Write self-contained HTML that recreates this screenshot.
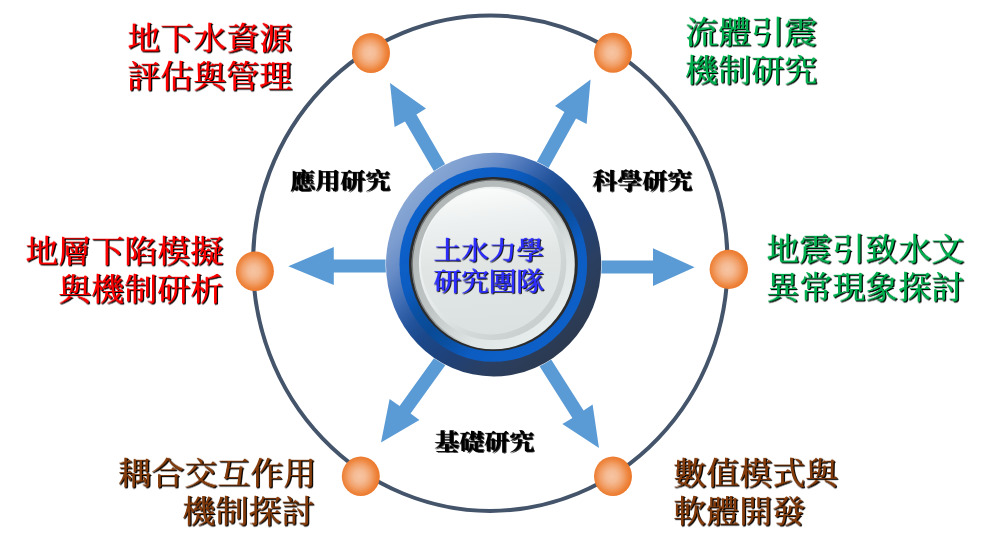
<!DOCTYPE html>
<html lang="zh-Hant">
<head>
<meta charset="utf-8">
<title>土水力學研究團隊</title>
<style>
html,body{margin:0;padding:0;background:#fff;}
body{width:985px;height:550px;position:relative;overflow:hidden;
  font-family:"Liberation Serif","Noto Serif CJK SC",serif;}
svg{position:absolute;left:0;top:0;display:block;}
.t{position:absolute;white-space:nowrap;font-weight:400;font-size:33px;line-height:40.1px;
  transform-origin:0 0;transform:scaleY(0.952);margin:0;will-change:transform;
  text-shadow:0.6px 0 0 currentColor,0.9px 0.5px 1px #000,0.9px 0.5px 1px #000,1.7px 1.2px 0.5px rgba(0,0,0,.9);}
.r{text-align:right;}
.red{color:#ff0000;}
.grn{color:#00b050;}
.brn{color:#843c0c;}
.s2{position:relative;left:-1.8px;}
.blu{color:#2e2eff;font-size:27.7px;line-height:32.7px;transform:scaleY(0.947);text-shadow:0.9px 0 0 currentColor,0.7px 0.5px 1px rgba(0,0,0,.85),1.9px 1.1px 0.5px rgba(0,0,0,.85);}
.blk{color:#000;font-size:25px;line-height:25px;font-weight:700;transform:scaleY(0.91);text-shadow:0.8px 0 0 #000,1.4px 1px 0.6px rgba(0,0,0,.8);}
</style>
</head>
<body>
<svg width="985" height="550" viewBox="0 0 985 550">
  <defs>
    <radialGradient id="dot" cx="0.47" cy="0.5" r="0.5">
      <stop offset="0" stop-color="#f6c4a2"/>
      <stop offset="0.3" stop-color="#f5bb94"/>
      <stop offset="0.6" stop-color="#f2a26c"/>
      <stop offset="0.85" stop-color="#ee863f"/>
      <stop offset="1" stop-color="#ec7a2e"/>
    </radialGradient>
    <linearGradient id="ring" x1="0.146" y1="0.146" x2="0.854" y2="0.854">
      <stop offset="0" stop-color="#89a8d5"/>
      <stop offset="0.1" stop-color="#7c9dcf"/>
      <stop offset="0.2" stop-color="#668bc6"/>
      <stop offset="0.33" stop-color="#3a68b0"/>
      <stop offset="0.42" stop-color="#22529a"/>
      <stop offset="0.5" stop-color="#1b488a"/>
      <stop offset="0.65" stop-color="#1f4178"/>
      <stop offset="0.8" stop-color="#2a3f62"/>
      <stop offset="1" stop-color="#2c3a50"/>
    </linearGradient>
    <linearGradient id="blue" x1="0.146" y1="0.146" x2="0.854" y2="0.854">
      <stop offset="0" stop-color="#0d62cc"/>
      <stop offset="0.26" stop-color="#0c5cc2"/>
      <stop offset="0.4" stop-color="#0a4fa0"/>
      <stop offset="0.5" stop-color="#094a96"/>
      <stop offset="0.6" stop-color="#0a4fa0"/>
      <stop offset="0.74" stop-color="#0c5cc2"/>
      <stop offset="1" stop-color="#0d60c8"/>
    </linearGradient>
    <linearGradient id="shade" x1="0.146" y1="0.146" x2="0.854" y2="0.854">
      <stop offset="0" stop-color="#404040" stop-opacity="0.6"/>
      <stop offset="0.45" stop-color="#404040" stop-opacity="0.45"/>
      <stop offset="0.75" stop-color="#404040" stop-opacity="0"/>
    </linearGradient>
    <linearGradient id="rim" x1="0.15" y1="0.1" x2="0.85" y2="0.9">
      <stop offset="0" stop-color="#b0b6b6"/>
      <stop offset="0.45" stop-color="#bfc5c5"/>
      <stop offset="0.75" stop-color="#dfe4e4"/>
      <stop offset="1" stop-color="#e8eded"/>
    </linearGradient>
    <linearGradient id="band" x1="0.146" y1="0.146" x2="0.854" y2="0.854">
      <stop offset="0" stop-color="#f4f6f6"/>
      <stop offset="0.4" stop-color="#e6eaea"/>
      <stop offset="0.7" stop-color="#d3d9d9"/>
      <stop offset="1" stop-color="#c9cfcf"/>
    </linearGradient>
    <linearGradient id="face" x1="0.45" y1="0" x2="0.55" y2="1">
      <stop offset="0" stop-color="#fafbfb"/>
      <stop offset="0.2" stop-color="#eef1f1"/>
      <stop offset="0.5" stop-color="#e1e6e5"/>
      <stop offset="1" stop-color="#dbe1e1"/>
    </linearGradient>
  </defs>

  <!-- orbit -->
  <ellipse cx="490.3" cy="263.2" rx="237.3" ry="247.7" fill="none" stroke="#44546a" stroke-width="4"/>

  <!-- arrows -->
  <g fill="#5b9bd5">
    <polygon points="288.3,266.3 333.8,246.9 333.8,259.5 400,259.5 400,272.5 333.8,272.5 333.8,285"/>
    <polygon points="694.6,267.3 653,248.2 653,260.5 590,260.5 590,273.6 653,273.6 653,286"/>
    <polygon points="390,83 426,108.4 416.4,114.4 456,183 444.6,189.6 405,121.6 394.6,127"/>
    <polygon points="590.6,79.6 555,106 564.4,112 525,183 536.6,189.6 576,118.6 586.6,124"/>
    <polygon points="381,442.4 389.6,399 399.6,406 445.6,342 456.6,349.6 410.6,413.6 419.4,420"/>
    <polygon points="599,448 592.6,404.6 583.6,410.6 540,342 528.6,349 572.4,418 562.4,424"/>
  </g>

  <!-- nodes -->
  <g fill="url(#dot)">
    <ellipse cx="371" cy="53" rx="19" ry="20"/>
    <ellipse cx="613" cy="52.8" rx="19" ry="20"/>
    <ellipse cx="254.9" cy="271.2" rx="19" ry="19.7"/>
    <ellipse cx="728.8" cy="269.3" rx="19.2" ry="19.6"/>
    <ellipse cx="360.8" cy="476.3" rx="19" ry="19.8"/>
    <ellipse cx="613" cy="476.3" rx="19" ry="19.8"/>
  </g>

  <!-- centre button -->
  <ellipse cx="493.6" cy="264.6" rx="108.1" ry="112.4" fill="#fff"/>
  <ellipse cx="493.6" cy="264.6" rx="107.6" ry="111.9" fill="url(#ring)"/>
  <ellipse cx="493.3" cy="264.5" rx="93.8" ry="97.3" fill="url(#blue)"/>
  <ellipse cx="493.4" cy="264" rx="84.4" ry="87.1" fill="#2b2b2b"/>
  <ellipse cx="493.2" cy="264.4" rx="81.6" ry="84.9" fill="url(#rim)"/>
  <ellipse cx="493.2" cy="264.4" rx="80.95" ry="84.25" fill="none" stroke="url(#shade)" stroke-width="1.3"/>
  <ellipse cx="492.6" cy="263.4" rx="73.7" ry="76.7" fill="url(#band)"/>
  <ellipse cx="490.8" cy="261.5" rx="70" ry="72.9" fill="url(#face)"/>
</svg>

<div class="t red" style="left:127px;top:20.2px;">地下水資源<br>評估與管理</div>
<div class="t red r" style="left:25px;top:232.6px;">地層下陷模擬<br>與機制研析</div>
<div class="t grn" style="left:685.2px;top:14px;">流體引震<br>機制研究</div>
<div class="t grn" style="left:766.3px;top:230.5px;">地震引致水文<br>異常現象探討</div>
<div class="t brn r" style="left:117.6px;top:455.3px;">耦合交互作用<br><span class="s2">機制探討</span></div>
<div class="t brn" style="left:673.2px;top:455.4px;">數值模式與<br>軟體開發</div>
<div class="t blu" style="left:432.6px;top:235.8px;">土水力學<br>研究團隊</div>
<div class="t blk" style="left:290.2px;top:170.3px;">應用研究</div>
<div class="t blk" style="left:591.6px;top:170.3px;">科學研究</div>
<div class="t blk" style="left:434px;top:431.4px;">基礎研究</div>
</body>
</html>
